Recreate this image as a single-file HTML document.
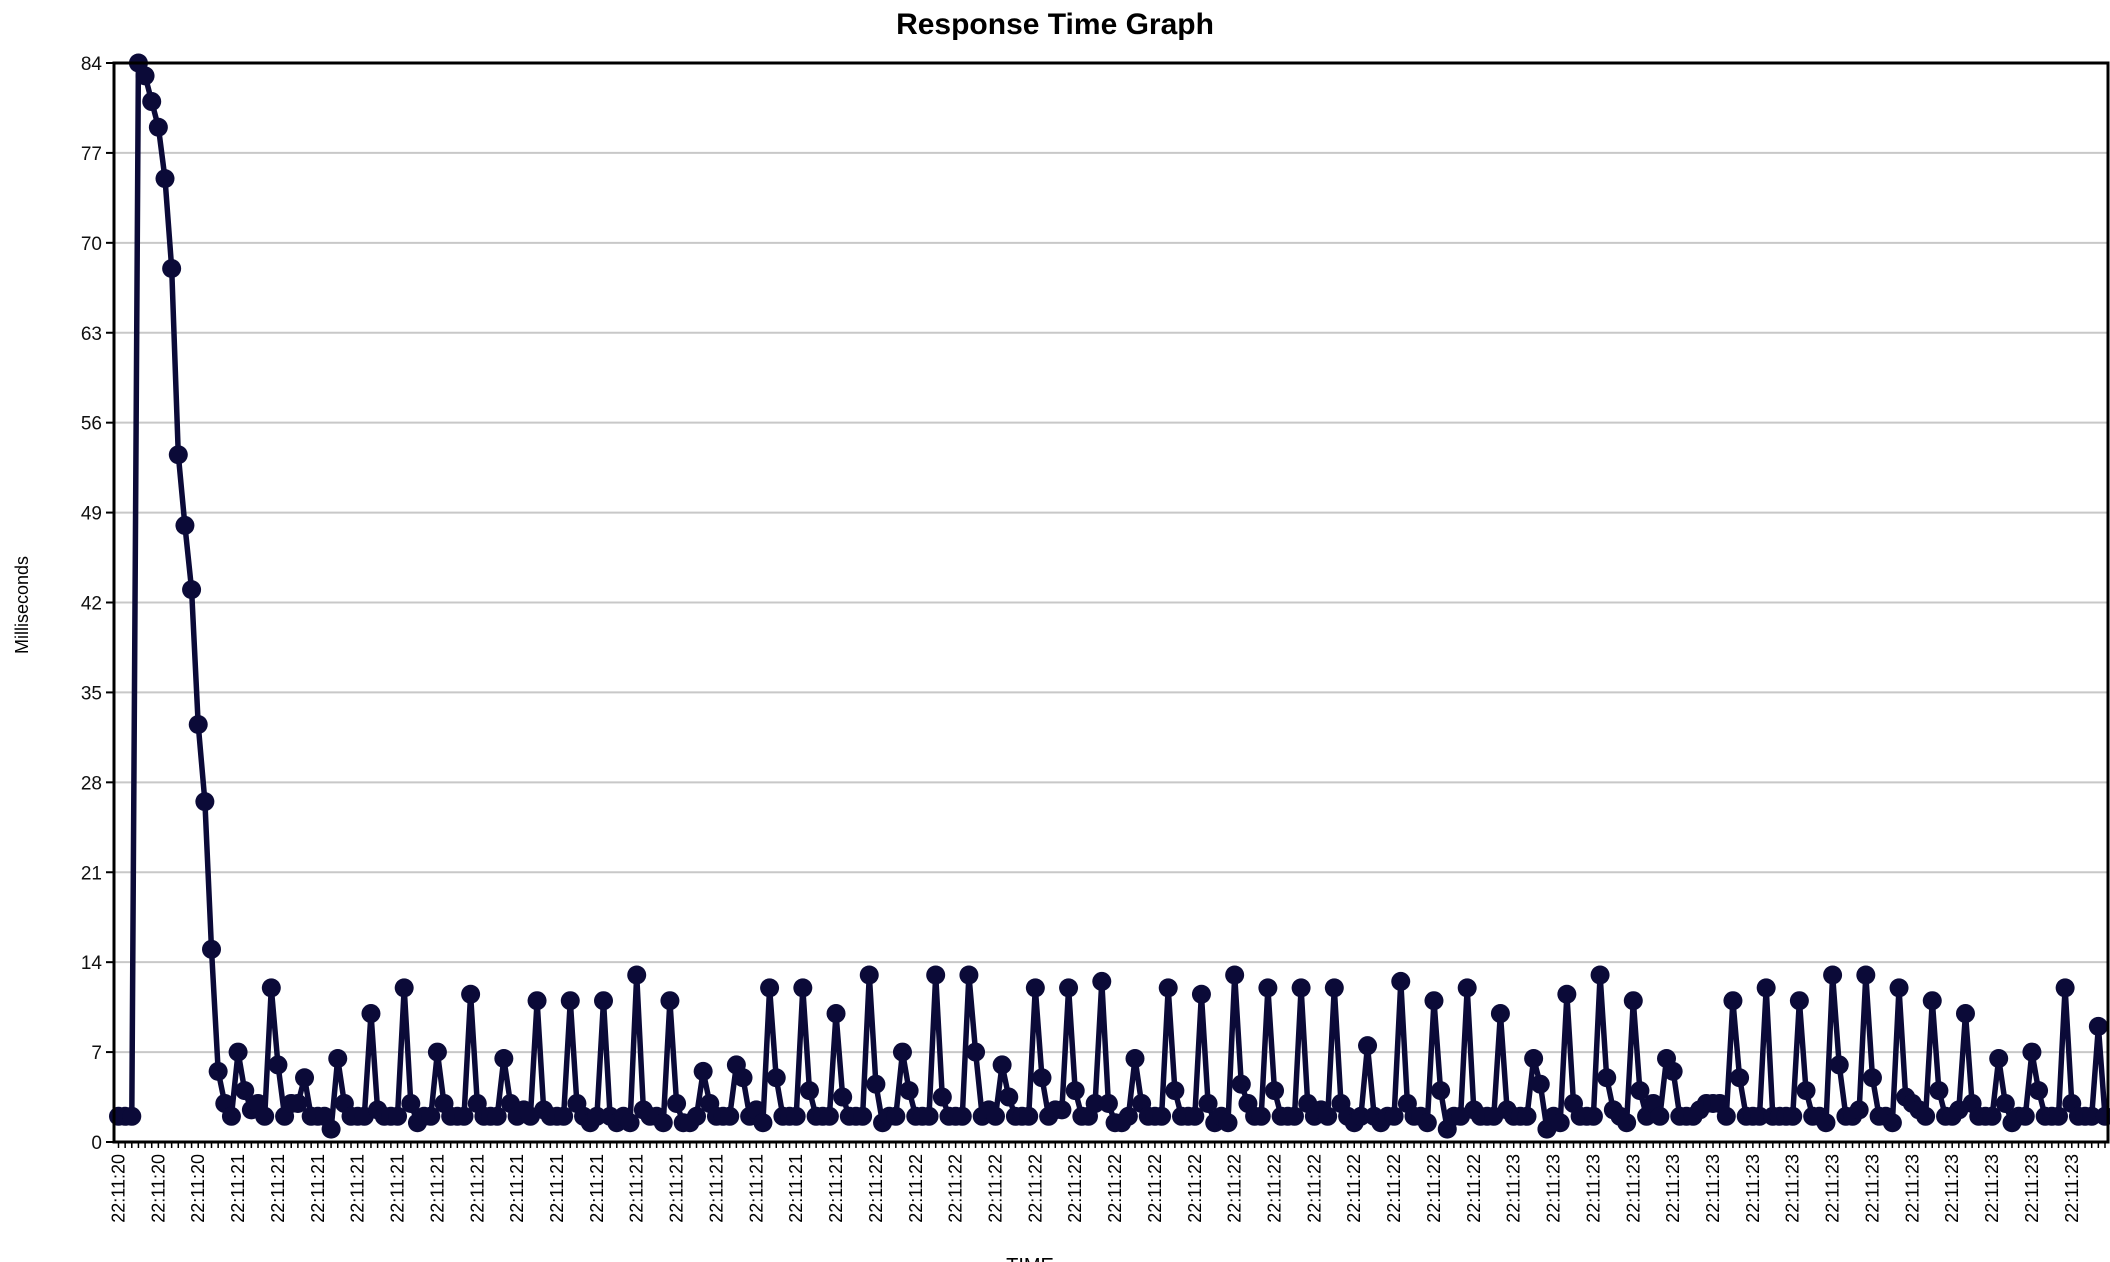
<!DOCTYPE html>
<html><head><meta charset="utf-8"><style>html,body{margin:0;padding:0;background:#fff}svg{display:block}</style></head>
<body>
<svg id="chart" width="2110" height="1262" xmlns="http://www.w3.org/2000/svg" font-family="'Liberation Sans', sans-serif">
<text x="1055" y="34" text-anchor="middle" font-size="30" font-weight="bold" fill="#000">Response Time Graph</text>
<text transform="translate(28,605) rotate(-90)" text-anchor="middle" font-size="18" fill="#000">Milliseconds</text>
<text x="1030" y="1272" text-anchor="middle" font-size="20" fill="#000">TIME</text>
<g id="grid"></g><g id="yticks"></g><g id="xticks"></g><g id="series"></g>
<rect x="114" y="63" width="1994" height="1079" fill="none" stroke="#000" stroke-width="3"/>
</svg>
<script>
const values = [2,2,2,84,83,81,79,75,68,53.5,48,43,32.5,26.5,15,5.5,3,2,7,4,2.5,3,2,12,6,2,3,3,5,2,2,2,1,6.5,3,2,2,2,10,2.5,2,2,2,12,3,1.5,2,2,7,3,2,2,2,11.5,3,2,2,2,6.5,3,2,2.5,2,11,2.5,2,2,2,11,3,2,1.5,2,11,2,1.5,2,1.5,13,2.5,2,2,1.5,11,3,1.5,1.5,2,5.5,3,2,2,2,6,5,2,2.5,1.5,12,5,2,2,2,12,4,2,2,2,10,3.5,2,2,2,13,4.5,1.5,2,2,7,4,2,2,2,13,3.5,2,2,2,13,7,2,2.5,2,6,3.5,2,2,2,12,5,2,2.5,2.5,12,4,2,2,3,12.5,3,1.5,1.5,2,6.5,3,2,2,2,12,4,2,2,2,11.5,3,1.5,2,1.5,13,4.5,3,2,2,12,4,2,2,2,12,3,2,2.5,2,12,3,2,1.5,2,7.5,2,1.5,2,2,12.5,3,2,2,1.5,11,4,1,2,2,12,2.5,2,2,2,10,2.5,2,2,2,6.5,4.5,1,2,1.5,11.5,3,2,2,2,13,5,2.5,2,1.5,11,4,2,3,2,6.5,5.5,2,2,2,2.5,3,3,3,2,11,5,2,2,2,12,2,2,2,2,11,4,2,2,1.5,13,6,2,2,2.5,13,5,2,2,1.5,12,3.5,3,2.5,2,11,4,2,2,2.5,10,3,2,2,2,6.5,3,1.5,2,2,7,4,2,2,2,12,3,2,2,2,9,2];
const yTicks = [0,7,14,21,28,35,42,49,56,63,70,77,84];
const tickSeconds = ["20","21","22","23"];
const NS='http://www.w3.org/2000/svg';
const L=114,R=2108,T=63,B=1142,yMax=84;
const x0=118.5,x1=2105;
function xs(i){return x0+(x1-x0)*i/(values.length-1);}
function ys(v){return B-(B-T)*v/yMax;}
function mk(tag,attrs,parent){const e=document.createElementNS(NS,tag);for(const k in attrs)e.setAttribute(k,attrs[k]);parent.appendChild(e);return e;}
const grid=document.getElementById('grid'),yt=document.getElementById('yticks'),xt=document.getElementById('xticks'),ser=document.getElementById('series');
yTicks.forEach(v=>{
  const y=ys(v);
  if(v>0&&v<yMax){const g=mk('line',{x1:L,x2:R,y1:y,y2:y,stroke:'#c8c8c8','stroke-width':2},grid);
  
  }
  mk('line',{x1:L-8,x2:L,y1:y,y2:y,stroke:'#000','stroke-width':2},yt);
  const t=mk('text',{x:L-12,y:y+7,'text-anchor':'end','font-size':19,fill:'#111'},yt);
  t.textContent=v;
  
  
});
for(let i=0;i<values.length;i++){
  const x=xs(i);
  mk('line',{x1:x,x2:x,y1:B,y2:B+6,stroke:'#000','stroke-width':1.5},xt);
  if(i%6===0){
    const k=i/6;
    const sec=k<3?tickSeconds[0]:k<19?tickSeconds[1]:k<35?tickSeconds[2]:tickSeconds[3];
    const t=mk('text',{transform:`translate(${x+6},${B+12}) rotate(-90)`,'text-anchor':'end','font-size':18,fill:'#000'},xt);
    t.textContent='22:11:'+sec;
    
    
  }
}
const pts=values.map((v,i)=>xs(i).toFixed(1)+','+ys(v).toFixed(1)).join(' ');
const line=mk('polyline',{points:pts,fill:'none',stroke:'#0b0a38','stroke-width':5.5,'stroke-linejoin':'round'},ser);


values.forEach((v,i)=>{
  const c=mk('circle',{cx:xs(i),cy:ys(v),r:9.5,fill:'#0b0a38'},ser);
  
  
});
</script>
</body></html>
